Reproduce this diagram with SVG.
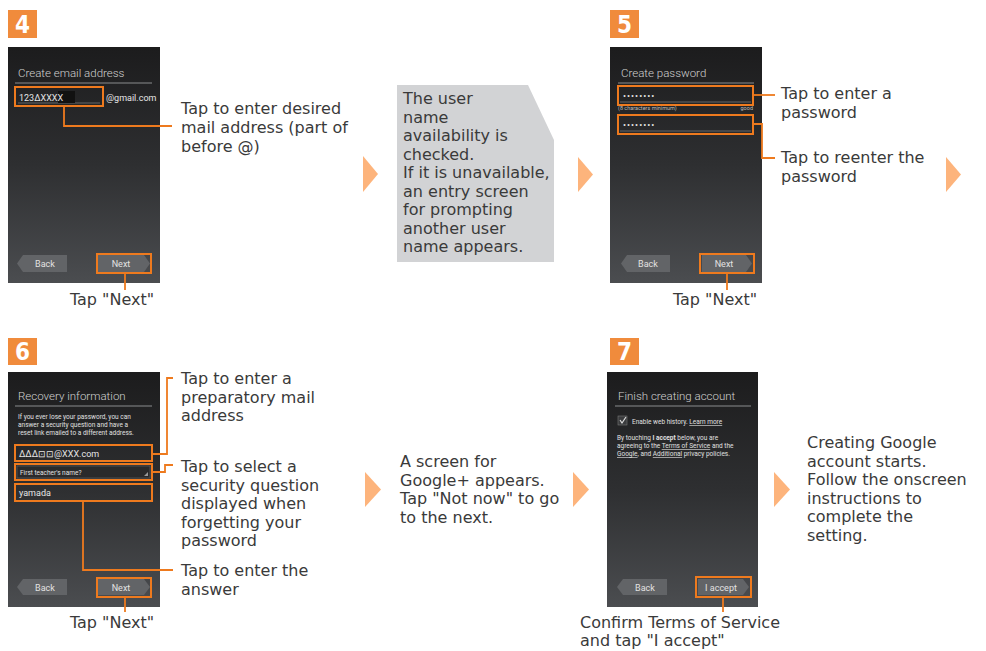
<svg xmlns="http://www.w3.org/2000/svg" width="986" height="651" viewBox="0 0 986 651">
<defs>
<linearGradient id="scr" x1="0" y1="0" x2="0" y2="1">
<stop offset="0" stop-color="#1c1c1d"/>
<stop offset="0.5" stop-color="#2e2f31"/>
<stop offset="1" stop-color="#4b4d50"/>
</linearGradient>
</defs>
<style>
.badge{fill:#f08b3c}
.bnum{fill:#fff;font-family:"DejaVu Sans Condensed","Liberation Sans",sans-serif;font-weight:bold;font-size:24px;text-anchor:middle}
.screen{fill:url(#scr)}
.title{fill:#d0d0d0;font-family:"Roboto","Open Sans",sans-serif;font-weight:300;font-size:11.5px}
.div{stroke:#8a8c8e;stroke-width:1.2}
.st{fill:#e6e6e6;font-family:"Roboto","Open Sans",sans-serif;font-size:9px}
.sm{fill:#e0e0e0;font-family:"Roboto","Open Sans",sans-serif;font-size:6.5px}
.tiny{fill:#bdbdbd;font-family:"Roboto",sans-serif;font-size:5.5px}
.btn{fill:#626467}
.btxt{fill:#e2e2e2;font-family:"Roboto","Open Sans",sans-serif;font-size:9px;text-anchor:middle}
.hl{fill:none;stroke:#ee7a1e;stroke-width:2}
.conn{fill:none;stroke:#ee7a1e;stroke-width:1.8}
.lbl{fill:#3a3a3a;font-family:"DejaVu Sans","Noto Sans",sans-serif;font-size:16px}
.arr{fill:#fdb47c}
.field{fill:#2a2a2b;stroke:#55575a;stroke-width:0.8}
</style>

<!-- Step 4 -->
<g id="step4">
<rect class="badge" x="8" y="10" width="29" height="28"/>
<text class="bnum" x="22.5" y="33">4</text>
<rect class="screen" x="8" y="47" width="152" height="236"/>
<text class="title" x="18" y="77">Create email address</text>
<line class="div" x1="15" y1="83" x2="152" y2="83"/>
<line x1="18" y1="103" x2="100" y2="103" stroke="#777" stroke-width="0.8"/>
<rect x="58" y="91" width="17" height="12" fill="#111"/>
<text class="st" x="19" y="101">123ΔXXXX</text>
<text class="st" x="106" y="101">@gmail.com</text>
<rect class="hl" x="15" y="87" width="88" height="19"/>
<polygon class="btn" points="17,263.5 23,255 67,255 67,272 23,272"/>
<text class="btxt" x="45" y="267">Back</text>
<polygon class="btn" points="98,255 144,255 150,263.5 144,272 98,272"/>
<text class="btxt" x="121" y="267">Next</text>
<rect class="hl" x="97" y="254" width="54" height="19"/>
</g>
<g id="label4a">
<text class="lbl" x="181" y="114">Tap to enter desired</text>
<text class="lbl" x="181" y="133">mail address (part of</text>
<text class="lbl" x="181" y="152">before @)</text>
</g>
<g id="label4b">
<text class="lbl" x="112" y="305" text-anchor="middle">Tap "Next"</text>
</g>

<!-- Note box -->
<g id="note">
<polygon points="397,85 528,85 554,140 554,262 397,262" fill="#d2d3d5"/>
<text class="lbl" x="403" y="104">The user</text>
<text class="lbl" x="403" y="122.5">name</text>
<text class="lbl" x="403" y="141">availability is</text>
<text class="lbl" x="403" y="159.5">checked.</text>
<text class="lbl" x="403" y="178">If it is unavailable,</text>
<text class="lbl" x="403" y="196.5">an entry screen</text>
<text class="lbl" x="403" y="215">for prompting</text>
<text class="lbl" x="403" y="233.5">another user</text>
<text class="lbl" x="403" y="252">name appears.</text>
</g>

<!-- Step 5 -->
<g id="step5">
<rect class="badge" x="610" y="10" width="29" height="28"/>
<text class="bnum" x="624.5" y="33">5</text>
<rect class="screen" x="610" y="47" width="152" height="236"/>
<text class="title" x="621" y="77">Create password</text>
<line class="div" x1="618" y1="83" x2="754" y2="83"/>
<line x1="620" y1="102" x2="751" y2="102" stroke="#777" stroke-width="0.8"/>
<text class="st" x="623" y="99" font-size="7" letter-spacing="1">••••••••</text>
<rect class="hl" x="618" y="86" width="135" height="19"/>
<text class="tiny" x="618" y="110">(8 characters minimum)</text>
<text class="tiny" x="753" y="110" text-anchor="end">good</text>
<line x1="620" y1="131" x2="751" y2="131" stroke="#777" stroke-width="0.8"/>
<text class="st" x="623" y="128" font-size="7" letter-spacing="1">••••••••</text>
<rect class="hl" x="618" y="115" width="135" height="19"/>
<polygon class="btn" points="621,263.5 627,255 670,255 670,272 627,272"/>
<text class="btxt" x="648" y="267">Back</text>
<polygon class="btn" points="702,255 746,255 752,263.5 746,272 702,272"/>
<text class="btxt" x="724" y="267">Next</text>
<rect class="hl" x="700" y="254" width="54" height="19"/>
</g>
<g id="label5a">
<text class="lbl" x="781" y="99">Tap to enter a</text>
<text class="lbl" x="781" y="118">password</text>
</g>
<g id="label5b">
<text class="lbl" x="781" y="163">Tap to reenter the</text>
<text class="lbl" x="781" y="182">password</text>
</g>
<g id="label5c">
<text class="lbl" x="715" y="305" text-anchor="middle">Tap "Next"</text>
</g>

<!-- Step 6 -->
<g id="step6">
<rect class="badge" x="8" y="338" width="29" height="27"/>
<text class="bnum" x="22.5" y="360">6</text>
<rect class="screen" x="8" y="372" width="152" height="235"/>
<text class="title" x="18" y="400">Recovery information</text>
<line class="div" x1="15" y1="406" x2="152" y2="406"/>
<text class="sm" x="18" y="419">If you ever lose your password, you can</text>
<text class="sm" x="18" y="427">answer a security question and have a</text>
<text class="sm" x="18" y="435">reset link emailed to a different address.</text>
<text class="st" x="19" y="457">ΔΔΔ⊡⊡@XXX.com</text>
<rect class="hl" x="15" y="445" width="137" height="16"/>
<rect class="field" x="17" y="466" width="133" height="12"/>
<polygon points="144,476 148,476 148,472" fill="#999"/>
<text class="sm" x="20" y="475">First teacher's name?</text>
<rect class="hl" x="15" y="464" width="137" height="16"/>
<text class="st" x="19" y="496">yamada</text>
<rect class="hl" x="15" y="484" width="137" height="17"/>
<polygon class="btn" points="17,587 23,579 67,579 67,595 23,595"/>
<text class="btxt" x="45" y="590.5">Back</text>
<polygon class="btn" points="98,579 144,579 150,587 144,595 98,595"/>
<text class="btxt" x="121" y="590.5">Next</text>
<rect class="hl" x="97" y="578" width="54" height="19"/>
</g>
<g id="label6a">
<text class="lbl" x="181" y="384">Tap to enter a</text>
<text class="lbl" x="181" y="402.5">preparatory mail</text>
<text class="lbl" x="181" y="421">address</text>
</g>
<g id="label6b">
<text class="lbl" x="181" y="472">Tap to select a</text>
<text class="lbl" x="181" y="490.5">security question</text>
<text class="lbl" x="181" y="509">displayed when</text>
<text class="lbl" x="181" y="527.5">forgetting your</text>
<text class="lbl" x="181" y="546">password</text>
</g>
<g id="label6c">
<text class="lbl" x="181" y="576">Tap to enter the</text>
<text class="lbl" x="181" y="594.5">answer</text>
</g>
<g id="label6d">
<text class="lbl" x="112" y="628" text-anchor="middle">Tap "Next"</text>
</g>

<!-- Google+ note -->
<g id="googleplus">
<text class="lbl" x="400" y="467">A screen for</text>
<text class="lbl" x="400" y="485.5">Google+ appears.</text>
<text class="lbl" x="400" y="504">Tap "Not now" to go</text>
<text class="lbl" x="400" y="522.5">to the next.</text>
</g>

<!-- Step 7 -->
<g id="step7">
<rect class="badge" x="610" y="338" width="29" height="27"/>
<text class="bnum" x="624.5" y="360">7</text>
<rect class="screen" x="607" y="372" width="151" height="235"/>
<text class="title" x="618" y="400">Finish creating account</text>
<line class="div" x1="615" y1="406" x2="751" y2="406"/>
<rect x="618" y="416" width="9" height="9" fill="#3a3b3d" stroke="#777" stroke-width="0.6"/>
<polyline points="620,420 622,423 626,417" fill="none" stroke="#ddd" stroke-width="1.2"/>
<text class="sm" x="632" y="424" font-size="6">Enable web history. <tspan text-decoration="underline">Learn more</tspan></text>
<text class="sm" x="617" y="440">By touching <tspan font-weight="bold">I accept</tspan> below, you are</text>
<text class="sm" x="617" y="448">agreeing to the <tspan text-decoration="underline">Terms of Service</tspan> and the</text>
<text class="sm" x="617" y="456"><tspan text-decoration="underline">Google</tspan>, and <tspan text-decoration="underline">Additional</tspan> privacy policies.</text>
<polygon class="btn" points="617,587 623,579 667,579 667,595 623,595"/>
<text class="btxt" x="645" y="590.5">Back</text>
<polygon class="btn" points="698,579 743,579 749,587 743,595 698,595"/>
<text class="btxt" x="721" y="590.5">I accept</text>
<rect class="hl" x="696" y="577" width="55" height="20"/>
</g>
<g id="label7a">
<text class="lbl" x="580" y="628">Confirm Terms of Service</text>
<text class="lbl" x="580" y="646">and tap "I accept"</text>
</g>
<g id="final">
<text class="lbl" x="807" y="448">Creating Google</text>
<text class="lbl" x="807" y="466.5">account starts.</text>
<text class="lbl" x="807" y="485">Follow the onscreen</text>
<text class="lbl" x="807" y="503.5">instructions to</text>
<text class="lbl" x="807" y="522">complete the</text>
<text class="lbl" x="807" y="540.5">setting.</text>
</g>

<!-- Flow arrows -->
<g id="arrows">
<polygon class="arr" points="363,156 378,174 363,192"/>
<polygon class="arr" points="578,157 593,174.5 578,192"/>
<polygon class="arr" points="946,157 961,174.5 946,192"/>
<polygon class="arr" points="365,472 381,489.5 365,507"/>
<polygon class="arr" points="573,472 589,489.5 573,507"/>
<polygon class="arr" points="774,472 790,489.5 774,507"/>
</g>

<!-- Connectors -->
<g id="connectors">
<polyline class="conn" points="64,106 64,126 172,126"/>
<polyline class="conn" points="125,273 125,290"/>
<polyline class="conn" points="753,95 775,95"/>
<polyline class="conn" points="753,124 762,124 762,158 775,158"/>
<polyline class="conn" points="727,273 727,290"/>
<polyline class="conn" points="152,454 167,454 167,378 173,378"/>
<polyline class="conn" points="152,472 165,472 165,465 173,465"/>
<polyline class="conn" points="83,501 83,570 173,570"/>
<polyline class="conn" points="125,597 125,612"/>
<polyline class="conn" points="723,597 723,612"/>
</g>
</svg>
